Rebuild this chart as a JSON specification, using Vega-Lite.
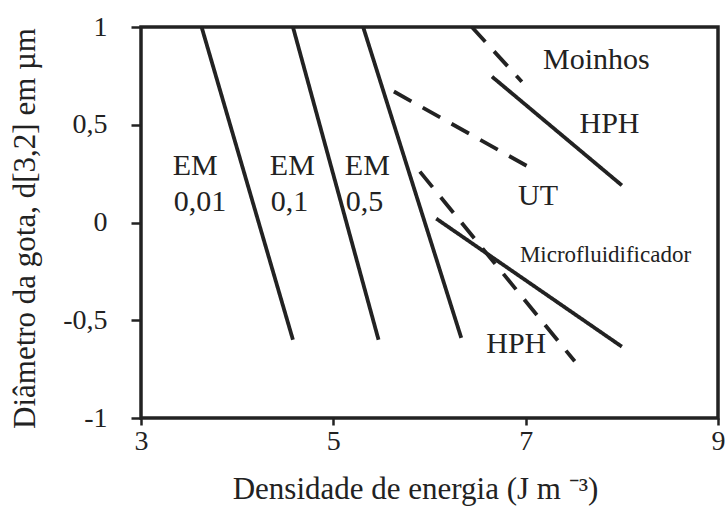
{
  "$schema": "https://vega.github.io/schema/vega-lite/v6.json",
  "width": 577,
  "height": 391,
  "autosize": {"type": "none"},
  "padding": {"left": 141, "top": 27, "right": 8, "bottom": 88},
  "background": "white",
  "config": {
    "view": {"stroke": "#222", "strokeWidth": 3.5},
    "axis": {"grid": false, "domain": false, "tickColor": "#222", "tickWidth": 2.5,
      "labelFont": "Liberation Serif", "labelColor": "#222", "labelFontSize": 28,
      "titleFont": "Liberation Serif", "titleColor": "#222", "titleFontSize": 31, "titleFontWeight": "normal"}
  },
  "datasets": {
    "lines": [
      {"series": "EM 0,01", "style": "solid", "x": 3.63, "y": 1},
      {"series": "EM 0,01", "style": "solid", "x": 4.58, "y": -0.6},
      {"series": "EM 0,1", "style": "solid", "x": 4.58, "y": 1},
      {"series": "EM 0,1", "style": "solid", "x": 5.47, "y": -0.6},
      {"series": "EM 0,5", "style": "solid", "x": 5.31, "y": 1},
      {"series": "EM 0,5", "style": "solid", "x": 6.33, "y": -0.59},
      {"series": "Moinhos", "style": "dashed", "x": 6.44, "y": 1},
      {"series": "Moinhos", "style": "dashed", "x": 6.96, "y": 0.72},
      {"series": "HPH alto", "style": "solid", "x": 6.65, "y": 0.746},
      {"series": "HPH alto", "style": "solid", "x": 8.0, "y": 0.19},
      {"series": "UT", "style": "dashed", "x": 5.63, "y": 0.67},
      {"series": "UT", "style": "dashed", "x": 7.01, "y": 0.29},
      {"series": "HPH baixo", "style": "dashed", "x": 5.9, "y": 0.26},
      {"series": "HPH baixo", "style": "dashed", "x": 7.51, "y": -0.71},
      {"series": "Microfluidificador", "style": "solid", "x": 6.07, "y": 0.02},
      {"series": "Microfluidificador", "style": "solid", "x": 8.0, "y": -0.635}
    ],
    "labels": [
      {"label": "EM", "x": 3.33, "y": 0.243},
      {"label": "0,01", "x": 3.34, "y": 0.06},
      {"label": "EM", "x": 4.34, "y": 0.243},
      {"label": "0,1", "x": 4.35, "y": 0.06},
      {"label": "EM", "x": 5.12, "y": 0.243},
      {"label": "0,5", "x": 5.13, "y": 0.06},
      {"label": "Moinhos", "x": 7.18, "y": 0.784},
      {"label": "HPH", "x": 7.56, "y": 0.456},
      {"label": "UT", "x": 6.92, "y": 0.09},
      {"label": "Microfluidificador", "x": 6.94, "y": -0.2},
      {"label": "HPH", "x": 6.59, "y": -0.669}
    ]
  },
  "layer": [
    {
      "data": {"name": "lines"},
      "mark": {"type": "line", "color": "#222", "strokeWidth": 3.8, "strokeCap": "butt", "clip": true},
      "encoding": {
        "x": {"field": "x", "type": "quantitative",
          "scale": {"domain": [3, 9], "nice": false, "zero": false},
          "axis": {"values": [3, 5, 7, 9], "format": "d", "tickSize": 7, "labelPadding": 2, "labelFlush": false,
            "title": "Densidade de energia (J m ⁻³)", "titleX": 274, "titleY": 80, "titleBaseline": "alphabetic", "titleAlign": "center"}},
        "y": {"field": "y", "type": "quantitative",
          "scale": {"domain": [-1, 1], "nice": false, "zero": false},
          "axis": {"values": [-1, -0.5, 0, 0.5, 1], "tickSize": 10, "labelPadding": 24,
            "labelExpr": "replace(replace(format(datum.value, '.1~f'), '.', ','), '\u2212', '-')",
            "title": "Diâmetro da gota, d[3,2] em µm", "titleX": -116, "titleY": 201, "titleAngle": -90, "titleAlign": "center", "titleBaseline": "middle"}},
        "detail": {"field": "series"},
        "strokeDash": {"field": "style", "type": "nominal",
          "scale": {"domain": ["solid", "dashed"], "range": [[1, 0], [20, 13]]}, "legend": null}
      }
    },
    {
      "data": {"name": "labels"},
      "transform": [{"filter": "datum.label != 'Microfluidificador'"}],
      "mark": {"type": "text", "font": "Liberation Serif", "fontSize": 30, "align": "left", "baseline": "alphabetic", "color": "#222"},
      "encoding": {
        "x": {"field": "x", "type": "quantitative"},
        "y": {"field": "y", "type": "quantitative"},
        "text": {"field": "label"}
      }
    },
    {
      "data": {"name": "labels"},
      "transform": [{"filter": "datum.label == 'Microfluidificador'"}],
      "mark": {"type": "text", "font": "Liberation Serif", "fontSize": 23, "align": "left", "baseline": "alphabetic", "color": "#222"},
      "encoding": {
        "x": {"field": "x", "type": "quantitative"},
        "y": {"field": "y", "type": "quantitative"},
        "text": {"field": "label"}
      }
    }
  ]
}
